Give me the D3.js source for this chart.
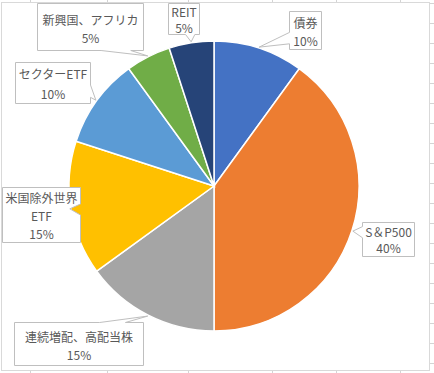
<!DOCTYPE html>
<html lang="ja">
<head>
<meta charset="utf-8">
<script src="https://cdn.jsdelivr.net/npm/d3@7"></script>
<style>
  body { margin: 0; background: #fff; }
  svg { display: block; }
  .lbl { font-family: "Noto Sans CJK JP", sans-serif; font-size: 12px; fill: #595959; }
</style>
</head>
<body>
<svg id="chart" width="434" height="373"></svg>
<script>
// data
const categories = ["債券", "S＆P500", "連続増配、高配当株", "米国除外世界ETF", "セクターETF", "新興国、アフリカ", "REIT"];
const values = [10, 40, 15, 15, 10, 5, 5];
const labelLines = [["債券"], ["S＆P500"], ["連続増配、高配当株"], ["米国除外世界", "ETF"], ["セクターETF"], ["新興国、アフリカ"], ["REIT"]];
const colors = ["#4472C4", "#ED7D31", "#A5A5A5", "#FFC000", "#5B9BD5", "#70AD47", "#264478"];

// callout layout (box, wedge side, wedge base fractions, line centres)
const callouts = [
  { x: 289, y: 11, w: 32, h: 38, side: "left", f: [0.55, 0.85], ys: [22, 40] },
  { x: 362, y: 222, w: 52, h: 34, side: "left", f: [0.12, 0.45], ys: [231, 247] },
  { x: 14, y: 322, w: 129, h: 43, side: "top", f: [0.66, 0.86], ys: [336, 354] },
  { x: 2, y: 187, w: 78, h: 55, side: "right", f: [0.3, 0.5], ys: [197, 215, 233] },
  { x: 15, y: 62, w: 75, h: 41, side: "right", f: [0.55, 0.85], ys: [73, 93] },
  { x: 37, y: 3, w: 106, h: 47, side: "bottom", f: [0.6, 0.88], ys: [19, 37] },
  { x: 168, y: 3, w: 31, h: 31, side: "bottom", f: [0.55, 0.85], ys: [11, 27] }
];

const svg = d3.select("#chart");
const gridColor = "#d4d4d4";

// sheet cell borders outside the chart
const colEdges = [30, 107, 188, 272, 336, 400];
colEdges.forEach(x => {
  svg.append("line").attr("x1", x + 0.5).attr("x2", x + 0.5).attr("y1", 0).attr("y2", 2)
    .attr("stroke", gridColor);
  svg.append("line").attr("x1", x + 0.5).attr("x2", x + 0.5).attr("y1", 371).attr("y2", 373)
    .attr("stroke", gridColor);
});
d3.range(3, 373, 20).forEach(y => {
  svg.append("line").attr("x1", 430).attr("x2", 434).attr("y1", y + 0.5).attr("y2", y + 0.5)
    .attr("stroke", gridColor);
});

// chart area
svg.append("rect").attr("x", 1.5).attr("y", 2.5).attr("width", 428).attr("height", 368)
  .attr("fill", "#fff").attr("stroke", "#d9d9d9");

const cx = 214, cy = 186, r = 145;
const g = svg.append("g").attr("transform", `translate(${cx},${cy})`);

const pie = d3.pie().sort(null).value(d => d);
const arcs = pie(values);
const arc = d3.arc().innerRadius(0).outerRadius(r);
const tipArc = d3.arc().innerRadius(r + 1).outerRadius(r + 1);

g.selectAll("path.slice")
  .data(arcs)
  .join("path")
  .attr("class", "slice")
  .attr("d", arc)
  .attr("fill", (d, i) => colors[i])
  .attr("stroke", "#fff")
  .attr("stroke-width", 1.5);

function calloutPath(b, tip) {
  const x = b.x + 0.5, y = b.y + 0.5, w = b.w, h = b.h, f = b.f;
  const p = [[x, y]];
  if (b.side === "top") p.push([x + w * f[0], y], tip, [x + w * f[1], y]);
  p.push([x + w, y]);
  if (b.side === "right") p.push([x + w, y + h * f[0]], tip, [x + w, y + h * f[1]]);
  p.push([x + w, y + h]);
  if (b.side === "bottom") p.push([x + w * f[1], y + h], tip, [x + w * f[0], y + h]);
  p.push([x, y + h]);
  if (b.side === "left") p.push([x, y + h * f[1]], tip, [x, y + h * f[0]]);
  return "M" + p.map(q => q.join(",")).join("L") + "Z";
}

arcs.forEach((a, i) => {
  const b = callouts[i];
  const c = tipArc.centroid(a);
  const tip = [c[0] + cx, c[1] + cy];
  svg.append("path")
    .attr("d", calloutPath(b, tip))
    .attr("fill", "#fff")
    .attr("stroke", "#bfbfbf")
    .attr("stroke-width", 1);
  const lines = labelLines[i].concat([values[i] + "%"]);
  lines.forEach((t, k) => {
    svg.append("text")
      .attr("class", "lbl")
      .attr("x", b.x + b.w / 2 + 0.5)
      .attr("y", b.ys[k])
      .attr("text-anchor", "middle")
      .attr("dominant-baseline", "central")
      .text(t);
  });
});
</script>
</body>
</html>
